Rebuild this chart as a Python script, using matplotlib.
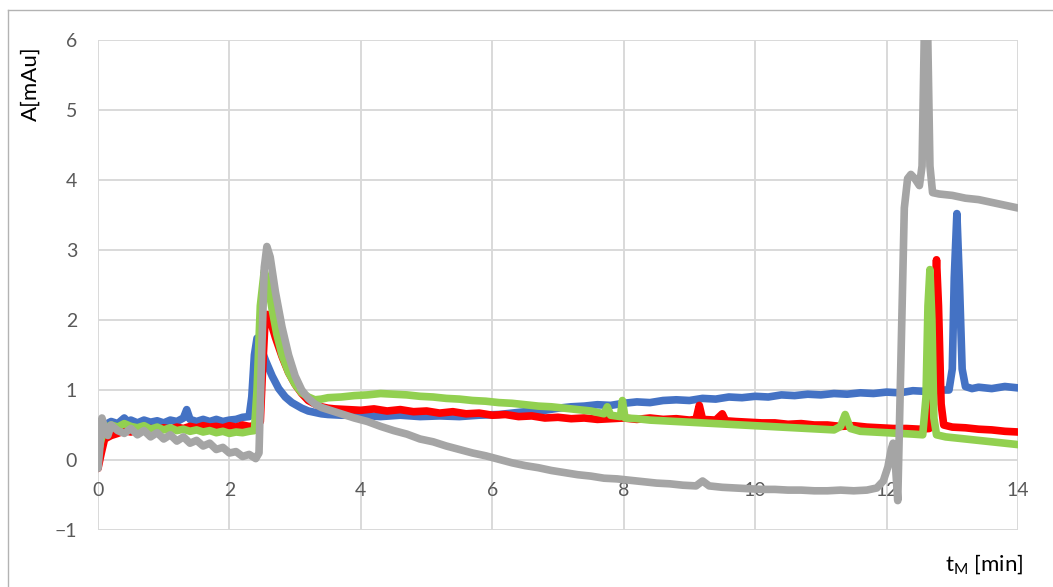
import matplotlib
matplotlib.use('Agg')
import matplotlib.pyplot as plt
from matplotlib.lines import Line2D

plt.rcParams['font.family'] = ['Lato', 'DejaVu Sans']
plt.rcParams['mathtext.fontset'] = 'custom'
plt.rcParams['mathtext.rm'] = 'Lato'

# values (t in min, A in mAu)
t_blue = [0.0, 0.05, 0.1, 0.2, 0.3, 0.4, 0.45, 0.5, 0.6, 0.7, 0.8, 0.9, 1.0, 1.1, 1.2, 1.3, 1.35, 1.4,
          1.5, 1.6, 1.7, 1.8, 1.9, 2.0, 2.1, 2.2, 2.3, 2.34, 2.38, 2.42, 2.47, 2.55, 2.65, 2.75, 2.85,
          2.95, 3.1, 3.2, 3.3, 3.4, 3.5, 3.7, 4.0, 4.3, 4.6, 4.9, 5.2, 5.5, 5.8, 6.1, 6.4, 6.6, 6.8,
          7.0, 7.2, 7.4, 7.6, 7.8, 8.0, 8.2, 8.4, 8.6, 8.8, 9.0, 9.2, 9.4, 9.6, 9.8, 10.0, 10.2, 10.4,
          10.6, 10.8, 11.0, 11.2, 11.4, 11.6, 11.8, 12.0, 12.2, 12.4, 12.6, 12.8, 12.95, 13.0, 13.03,
          13.07, 13.11, 13.15, 13.2, 13.3, 13.4, 13.6, 13.8, 14.0]
a_blue = [-0.1, 0.35, 0.5, 0.55, 0.52, 0.6, 0.55, 0.57, 0.53, 0.57, 0.54, 0.56, 0.53, 0.57, 0.55, 0.6,
          0.72, 0.58, 0.55, 0.58, 0.55, 0.58, 0.55, 0.57, 0.58, 0.61, 0.62, 0.9, 1.5, 1.74, 1.62, 1.42,
          1.2, 1.02, 0.9, 0.82, 0.74, 0.7, 0.68, 0.66, 0.65, 0.64, 0.64, 0.62, 0.64, 0.62, 0.63, 0.62,
          0.64, 0.65, 0.68, 0.7, 0.71, 0.74, 0.76, 0.77, 0.79, 0.78, 0.81, 0.83, 0.82, 0.85, 0.86,
          0.85, 0.88, 0.87, 0.9, 0.89, 0.91, 0.9, 0.93, 0.92, 0.94, 0.93, 0.95, 0.94, 0.96, 0.95,
          0.97, 0.96, 0.99, 0.98, 1.0, 1.0, 1.3, 2.6, 3.52, 2.5, 1.3, 1.05, 1.02, 1.04, 1.02, 1.05, 1.03]

t_red = [0.0, 0.05, 0.1, 0.2, 0.3, 0.4, 0.5, 0.6, 0.7, 0.8, 0.9, 1.0, 1.1, 1.2, 1.3, 1.4, 1.5, 1.6,
         1.7, 1.8, 1.9, 2.0, 2.1, 2.2, 2.3, 2.4, 2.47, 2.5, 2.54, 2.58, 2.62, 2.7, 2.8, 2.9, 3.0, 3.1,
         3.2, 3.3, 3.4, 3.5, 3.6, 3.8, 4.0, 4.2, 4.4, 4.6, 4.8, 5.0, 5.2, 5.4, 5.6, 5.8, 6.0, 6.2,
         6.4, 6.6, 6.8, 7.0, 7.2, 7.4, 7.6, 7.8, 8.0, 8.2, 8.4, 8.6, 8.8, 9.0, 9.1, 9.15, 9.2, 9.4,
         9.5, 9.55, 9.7, 9.9, 10.1, 10.3, 10.5, 10.7, 10.9, 11.1, 11.3, 11.5, 11.7, 11.9, 12.1, 12.3,
         12.5, 12.65, 12.7, 12.73, 12.76, 12.79, 12.83, 12.87, 13.0, 13.2, 13.4, 13.6, 13.8, 14.0]
a_red = [-0.12, 0.1, 0.3, 0.35, 0.38, 0.42, 0.4, 0.44, 0.42, 0.45, 0.43, 0.46, 0.44, 0.47, 0.45,
         0.48, 0.46, 0.49, 0.47, 0.48, 0.46, 0.49, 0.47, 0.5, 0.48, 0.49, 0.55, 1.2, 1.95, 2.08, 2.0,
         1.75, 1.48, 1.25, 1.08, 0.95, 0.85, 0.8, 0.76, 0.74, 0.73, 0.72, 0.71, 0.73, 0.7, 0.72, 0.69,
         0.7, 0.67, 0.69, 0.66, 0.67, 0.64, 0.65, 0.62, 0.63, 0.6, 0.61, 0.59, 0.6, 0.58, 0.59, 0.6,
         0.58, 0.6, 0.58, 0.59, 0.57, 0.58, 0.78, 0.58, 0.57, 0.66, 0.56, 0.55, 0.54, 0.53, 0.53,
         0.51, 0.52, 0.5, 0.5, 0.48, 0.49, 0.47, 0.46, 0.45, 0.45, 0.44, 0.45, 0.8, 2.2, 2.86, 2.2,
         0.8, 0.5, 0.47, 0.46, 0.44, 0.43, 0.41, 0.4]

t_green = [0.0, 0.05, 0.1, 0.2, 0.3, 0.4, 0.5, 0.6, 0.7, 0.8, 0.9, 1.0, 1.1, 1.2, 1.3, 1.4, 1.5, 1.6,
           1.7, 1.8, 1.9, 2.0, 2.1, 2.2, 2.3, 2.38, 2.42, 2.47, 2.53, 2.58, 2.65, 2.72, 2.8, 2.9, 3.0,
           3.1, 3.2, 3.3, 3.4, 3.5, 3.7, 3.9, 4.1, 4.3, 4.5, 4.7, 4.9, 5.1, 5.3, 5.5, 5.7, 5.9, 6.1,
           6.3, 6.5, 6.7, 6.9, 7.1, 7.3, 7.5, 7.7, 7.75, 7.8, 7.95, 7.98, 8.02, 8.2, 8.4, 8.6, 8.8,
           9.0, 9.2, 9.4, 9.6, 9.8, 10.0, 10.2, 10.4, 10.6, 10.8, 11.0, 11.2, 11.3, 11.37, 11.45,
           11.6, 11.8, 12.0, 12.2, 12.4, 12.55, 12.6, 12.63, 12.66, 12.69, 12.72, 12.76, 12.9, 13.1,
           13.3, 13.5, 13.7, 13.9, 14.0]
a_green = [0.1, 0.3, 0.45, 0.5, 0.47, 0.52, 0.48, 0.46, 0.49, 0.44, 0.47, 0.43, 0.46, 0.42, 0.44,
           0.41, 0.43, 0.4, 0.42, 0.39, 0.41, 0.38, 0.4, 0.39, 0.41, 0.42, 1.0, 2.2, 2.7, 2.55, 2.15,
           1.8, 1.5, 1.25, 1.08, 0.96, 0.9, 0.86, 0.87, 0.89, 0.9, 0.92, 0.93, 0.95, 0.94, 0.93,
           0.91, 0.9, 0.88, 0.87, 0.85, 0.84, 0.82, 0.81, 0.79, 0.77, 0.76, 0.74, 0.72, 0.7, 0.66,
           0.76, 0.64, 0.62, 0.85, 0.6, 0.59, 0.57, 0.56, 0.55, 0.54, 0.53, 0.52, 0.51, 0.5, 0.49,
           0.48, 0.47, 0.46, 0.45, 0.44, 0.43, 0.48, 0.65, 0.45, 0.41, 0.4, 0.39, 0.38, 0.37, 0.36,
           0.9, 2.2, 2.72, 2.0, 0.6, 0.36, 0.33, 0.31, 0.29, 0.27, 0.25, 0.23, 0.22]

t_gray = [0.0, 0.03, 0.06, 0.1, 0.15, 0.2, 0.3, 0.4, 0.5, 0.6, 0.7, 0.8, 0.9, 1.0, 1.1, 1.2, 1.3, 1.4,
          1.5, 1.6, 1.7, 1.8, 1.9, 2.0, 2.1, 2.2, 2.3, 2.4, 2.45, 2.49, 2.53, 2.57, 2.62, 2.7, 2.8, 2.9,
          3.0, 3.1, 3.2, 3.3, 3.4, 3.5, 3.7, 3.9, 4.1, 4.3, 4.5, 4.7, 4.9, 5.1, 5.3, 5.5, 5.7, 5.9,
          6.1, 6.3, 6.5, 6.7, 6.9, 7.1, 7.3, 7.5, 7.7, 7.9, 8.1, 8.3, 8.5, 8.7, 8.9, 9.1, 9.2, 9.3,
          9.5, 9.7, 9.9, 10.1, 10.3, 10.5, 10.7, 10.9, 11.1, 11.3, 11.5, 11.7, 11.85, 11.95, 12.02,
          12.07, 12.1, 12.13, 12.17, 12.22, 12.27, 12.32, 12.37, 12.43, 12.5, 12.54, 12.58, 12.62,
          12.66, 12.7, 12.8, 13.0, 13.2, 13.4, 13.6, 13.8, 14.0]
a_gray = [-0.12, 0.2, 0.6, 0.45, 0.35, 0.5, 0.42, 0.38, 0.45, 0.36, 0.42, 0.33, 0.39, 0.3, 0.36,
          0.27, 0.33, 0.24, 0.28, 0.2, 0.24, 0.15, 0.18, 0.1, 0.12, 0.05, 0.08, 0.02, 0.1, 1.5, 2.75,
          3.05, 2.9, 2.4, 1.9, 1.5, 1.2, 1.0, 0.88, 0.8, 0.75, 0.72, 0.66, 0.6, 0.55, 0.48, 0.42,
          0.37, 0.3, 0.26, 0.2, 0.15, 0.1, 0.06, 0.01, -0.04, -0.08, -0.11, -0.15, -0.18, -0.21,
          -0.23, -0.26, -0.27, -0.29, -0.31, -0.33, -0.34, -0.36, -0.37, -0.3, -0.37, -0.39, -0.4,
          -0.41, -0.42, -0.42, -0.43, -0.43, -0.44, -0.44, -0.43, -0.44, -0.43, -0.4, -0.3, -0.1,
          0.15, 0.24, 0.0, -0.58, 1.5, 3.6, 4.02, 4.08, 4.02, 3.92, 4.2, 6.4, 6.4, 4.2, 3.82, 3.8,
          3.78, 3.74, 3.72, 3.68, 3.64, 3.6]

series = [
    (t_blue, a_blue, '#4472C4'),
    (t_red, a_red, '#FF0000'),
    (t_green, a_green, '#92D050'),
    (t_gray, a_gray, '#A5A5A5'),
]

fig = plt.figure(figsize=(10.53, 5.87), dpi=100)
ax = fig.add_axes([98 / 1053, 57 / 587, 920 / 1053, 490 / 587])

for t, a, c in series:
    ax.plot(t, a, color=c, lw=5.5, solid_joinstyle='round', solid_capstyle='round')

ax.set_xlim(0, 14)
ax.set_ylim(-1, 6)
ax.set_xticks(range(0, 15, 2))
ax.set_yticks(range(-1, 7))
ax.grid(True, color='#d9d9d9', lw=1.4)
ax.set_axisbelow(True)
for s in ax.spines.values():
    s.set_visible(False)
ax.spines['bottom'].set_position(('data', 0))
ax.tick_params(length=0, labelsize=14, labelcolor='#595959')
ax.tick_params(axis='x', pad=16)
ax.tick_params(axis='y', pad=15)

fig.text(31 / 1053, 1 - 84 / 587, 'A[mAu]', rotation=90, ha='center', va='center', fontsize=16)
fig.text(1023 / 1053, 1 - 564 / 587, r'$\mathregular{t_M}$ [min]', ha='right', va='center', fontsize=16)

# chart area border
fig.add_artist(Line2D([8 / 1053, 8 / 1053], [0, 1 - 10 / 587], color='#b3b3b3', lw=1))
fig.add_artist(Line2D([8 / 1053, 1], [1 - 10 / 587, 1 - 10 / 587], color='#b3b3b3', lw=1))

fig.savefig('out.png', dpi=100)
